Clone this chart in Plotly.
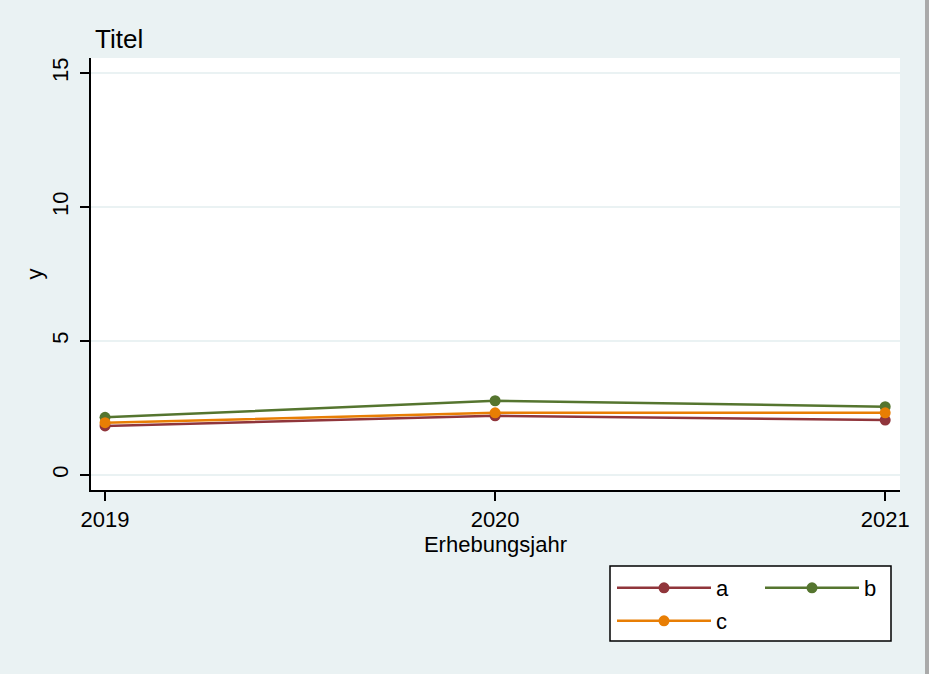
import plotly.graph_objects as go

years = [2019, 2020, 2021]
series_names = ["a", "b", "c"]
a_vals = [1.83, 2.21, 2.05]
b_vals = [2.15, 2.77, 2.55]
c_vals = [1.95, 2.32, 2.32]
colors = ["rgb(144,53,59)", "rgb(85,117,47)", "rgb(232,126,4)"]
y_ticks = [0, 5, 10, 15]

BG = "rgb(234,242,243)"
FONT = "Liberation Sans, Arial, sans-serif"

fig = go.Figure()
for name, vals, col, lg in zip(series_names, [a_vals, b_vals, c_vals], colors,
                               ["legend", "legend", "legend2"]):
    fig.add_trace(go.Scatter(
        x=years, y=vals, name=name, mode="lines+markers",
        line=dict(color=col, width=2.5),
        marker=dict(color=col, size=11, symbol="circle"),
        legend=lg,
    ))

fig.update_layout(
    width=929, height=674,
    paper_bgcolor=BG, plot_bgcolor="white",
    margin=dict(l=91, r=29, t=58, b=184, autoexpand=False),
    font=dict(family=FONT, size=22, color="black"),
    title=dict(text="Titel", x=95/929, xanchor="left", y=1-39/674, yanchor="middle",
               font=dict(size=26, family=FONT, color="black")),
    xaxis=dict(
        range=[2018.964, 2021.038], tickvals=years, ticktext=[str(y) for y in years],
        showgrid=False, zeroline=False, showline=True, linecolor="black", linewidth=1.5,
        ticks="outside", ticklen=9, tickcolor="black", tickwidth=1.5,
        tickfont=dict(size=22, family=FONT),
        title=dict(text="Erhebungsjahr", font=dict(size=22, family=FONT), standoff=2),
    ),
    yaxis=dict(
        range=[-0.56, 15.56], tickvals=y_ticks, tickangle=-90,
        showgrid=True, gridcolor=BG, gridwidth=1.5, zeroline=False,
        showline=True, linecolor="black", linewidth=1.5,
        ticks="outside", ticklen=9, tickcolor="black", tickwidth=1.5,
        ticklabelstandoff=3,
        tickfont=dict(size=22, family=FONT),
        title=dict(text="y", font=dict(size=22, family=FONT), standoff=0),
    ),
    legend=dict(
        orientation="h", x=(612-91)/809, xanchor="left", y=(490-567)/432, yanchor="top",
        bgcolor="rgba(0,0,0,0)", borderwidth=0, entrywidth=39, entrywidthmode="pixels",
        itemwidth=94, font=dict(size=22, family=FONT), tracegroupgap=0,
    ),
    legend2=dict(
        orientation="h", x=(612-91)/809, xanchor="left", y=(490-600)/432, yanchor="top",
        bgcolor="rgba(0,0,0,0)", borderwidth=0,
        itemwidth=94, font=dict(size=22, family=FONT),
    ),
    shapes=[
        dict(type="rect", xref="paper", yref="paper",
             x0=(610-91)/809, x1=(891-91)/809, y0=(490-641)/432, y1=(490-566)/432,
             fillcolor="white", line=dict(color="black", width=1.5), layer="below"),
        dict(type="rect", xref="paper", yref="paper",
             x0=(925-91)/809, x1=(935-91)/809, y0=-0.5, y1=1.2,
             fillcolor="rgb(170,170,170)", line=dict(width=0), layer="above"),
    ],
)

fig.write_html("out.html")
